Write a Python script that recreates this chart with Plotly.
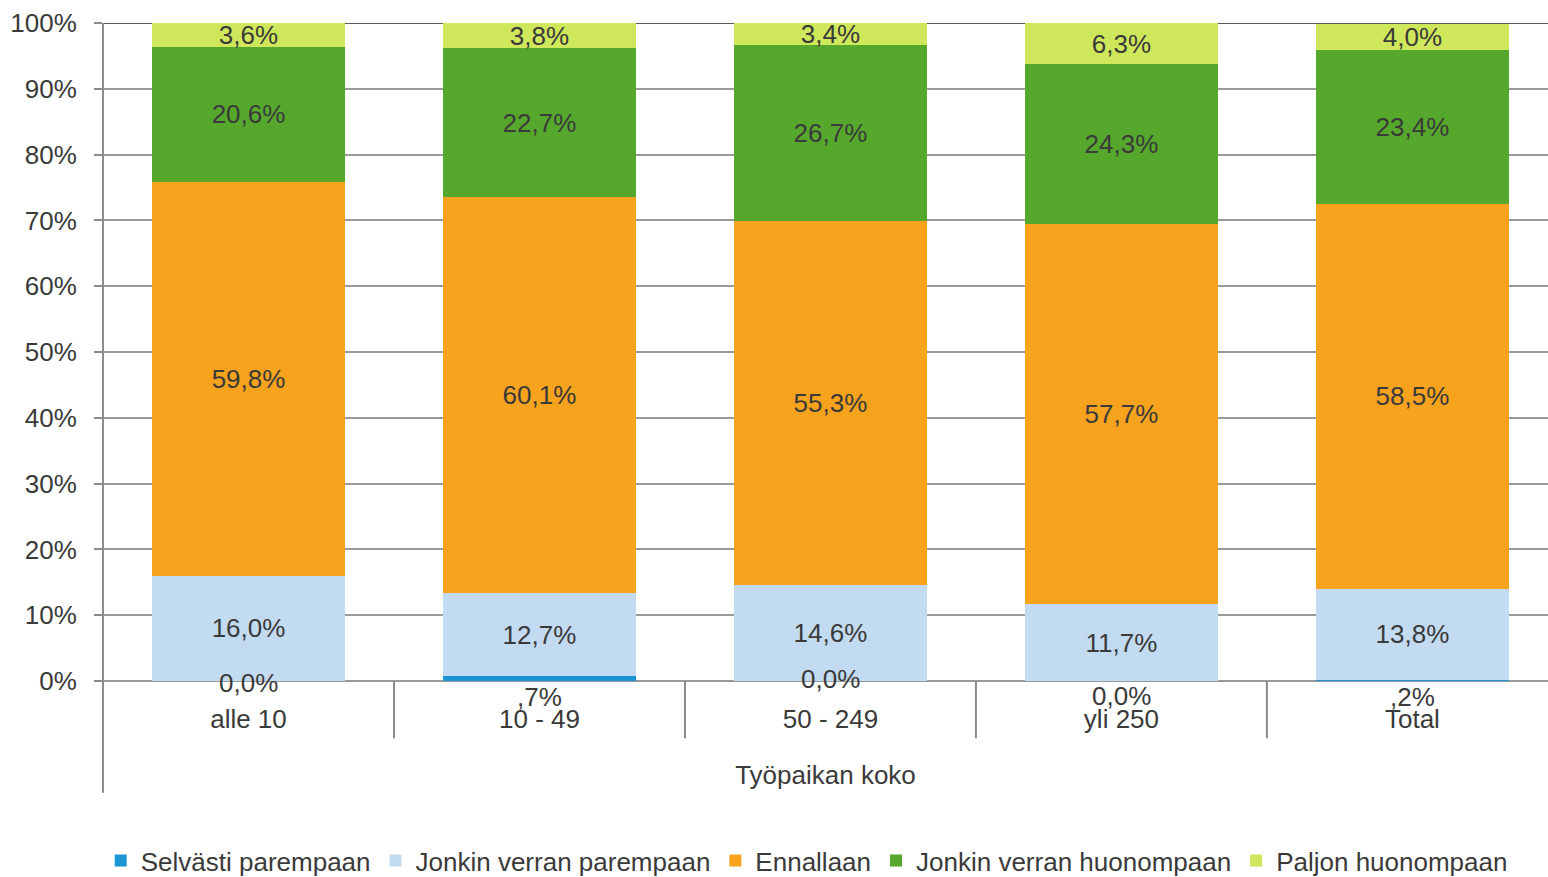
import plotly.graph_objects as go

# Workplace size categories (x axis)
categories = ["alle 10", "10 - 49", "50 - 249", "yli 250", "Total"]

# Share of respondents per answer, percent
selvasti_parempaan = [0.0, 0.7, 0.0, 0.0, 0.2]
jonkin_verran_parempaan = [16.0, 12.7, 14.6, 11.7, 13.8]
ennallaan = [59.8, 60.1, 55.3, 57.7, 58.5]
jonkin_verran_huonompaan = [20.6, 22.7, 26.7, 24.3, 23.4]
paljon_huonompaan = [3.6, 3.8, 3.4, 6.3, 4.0]

y_ticks = [0, 10, 20, 30, 40, 50, 60, 70, 80, 90, 100]

FONT = "Liberation Sans, Arial, sans-serif"
TEXT = "#3a3a3a"
FS = 26


def fi_pct(v):
    return f"{v:.1f}".replace(".", ",") + "%"


def short_pct(v):
    # small non-zero shares are printed without the leading zero
    s = fi_pct(v)
    return s[1:] if 0 < v < 1 else s


series = [
    ("Selvästi parempaan", selvasti_parempaan, "#1a96d4", False),
    ("Jonkin verran parempaan", jonkin_verran_parempaan, "#c3dbf1", True),
    ("Ennallaan", ennallaan, "#f8a31d", True),
    ("Jonkin verran huonompaan", jonkin_verran_huonompaan, "#56a82d", True),
    ("Paljon huonompaan", paljon_huonompaan, "#cfe75a", True),
]

fig = go.Figure()
for name, vals, color, labelled in series:
    fig.add_trace(go.Bar(
        name=name,
        x=categories,
        y=vals,
        width=0.663,
        marker=dict(color=color, line=dict(width=0)),
        text=[fi_pct(v) for v in vals] if labelled else None,
        textposition="inside" if labelled else "none",
        insidetextanchor="middle",
        textangle=0,
        constraintext="none",
        insidetextfont=dict(family=FONT, size=FS, color=TEXT),
        hoverinfo="skip",
    ))

# labels of the thin "Selvästi parempaan" segments sit just under the axis
selv_label_shift = [-2, -16, 2, -15, -16]
for cat, v, dy in zip(categories, selvasti_parempaan, selv_label_shift):
    fig.add_annotation(
        x=cat, y=0, yref="y", text=short_pct(v), showarrow=False,
        yanchor="middle", yshift=dy,
        font=dict(family=FONT, size=FS, color=TEXT),
    )

shapes = []
# category separators below the axis
for i in range(len(categories) - 1):
    shapes.append(dict(type="line", xref="x", yref="paper",
                       x0=i + 0.5, x1=i + 0.5, y0=0, y1=-0.087,
                       line=dict(color="#8c8c8c", width=2), layer="above"))
# left axis line running down past the category labels
shapes.append(dict(type="line", xref="paper", yref="paper",
                   x0=0, x1=0, y0=1, y1=-0.17,
                   line=dict(color="#8c8c8c", width=2), layer="above"))
# darker top border line at 100 %
shapes.append(dict(type="line", xref="paper", yref="y",
                   x0=0, x1=1, y0=100, y1=100,
                   line=dict(color="#5a5a5a", width=2), layer="below"))

fig.update_layout(
    barmode="stack",
    width=1548,
    height=877,
    margin=dict(l=103, r=0, t=23, b=196, autoexpand=False),
    paper_bgcolor="white",
    plot_bgcolor="white",
    font=dict(family=FONT, size=FS, color=TEXT),
    uniformtext=dict(minsize=FS, mode="show"),
    shapes=shapes,
    showlegend=True,
    legend=dict(
        orientation="h",
        x=0.487, xanchor="center",
        y=-0.273, yanchor="middle",
        font=dict(family=FONT, size=FS, color=TEXT),
        itemwidth=30,
        traceorder="normal",
        itemclick=False,
    ),
    xaxis=dict(
        type="category",
        range=[-0.5, 4.466],
        showgrid=False,
        ticks="",
        ticklabelstandoff=20,
        tickfont=dict(family=FONT, size=FS, color=TEXT),
        showline=False,
        zeroline=False,
        title=dict(text="Työpaikan koko", standoff=32,
                   font=dict(family=FONT, size=FS, color=TEXT)),
    ),
    yaxis=dict(
        range=[0, 100],
        tickvals=y_ticks,
        ticktext=[f"{t}%" for t in y_ticks],
        ticks="outside",
        ticklen=8,
        tickwidth=2,
        tickcolor="#8c8c8c",
        ticklabelstandoff=12,
        tickfont=dict(family=FONT, size=FS, color=TEXT),
        showgrid=True,
        gridcolor="#9a9a9a",
        gridwidth=2,
        zeroline=True,
        zerolinecolor="#9a9a9a",
        zerolinewidth=2,
        showline=False,
    ),
)

fig.write_html("out.html")
